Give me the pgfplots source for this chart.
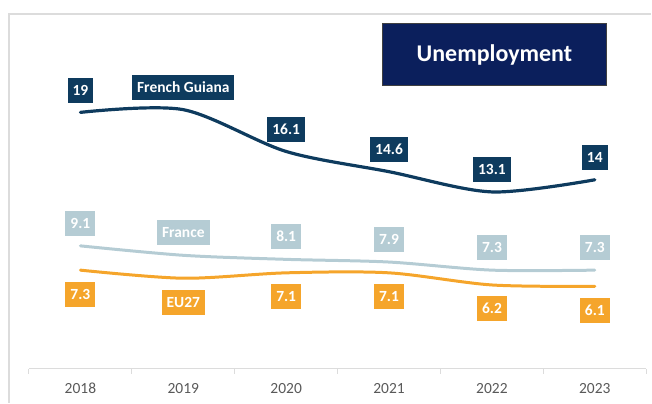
\documentclass[border=0pt]{standalone}
\usepackage{pgfplots}
\pgfplotsset{compat=1.18}
\usepackage{fontspec}
\setmainfont{Carlito}

\definecolor{guiana}{HTML}{0E3B5E}
\definecolor{france}{HTML}{B5CCD4}
\definecolor{eu}{HTML}{F5A52B}
\definecolor{titlebg}{HTML}{0B1F5C}
\definecolor{framegray}{HTML}{DCDCDC}
\definecolor{ticktext}{HTML}{595959}

\tikzset{
    lbl/.style={font=\bfseries\fontsize{15.5}{18}\selectfont, text=white,
        minimum height=25pt, inner xsep=5pt, inner ysep=0pt,
        text height=10pt, text depth=0pt, anchor=center},
}

\begin{document}
\begin{tikzpicture}
\begin{axis}[
    scale only axis,
    width=618pt, height=351pt,
    xmin=-0.5, xmax=5.5,
    ymin=0, ymax=26,
    axis y line=none,
    axis x line*=bottom,
    axis line style={draw=framegray, line width=1.2pt},
    xtick={0,1,2,3,4,5},
    xticklabels={2018,2019,2020,2021,2022,2023},
    major tick length=0pt,
    xticklabel style={font=\fontsize{15.5}{18}\selectfont, text=ticktext, yshift=-11pt},
    extra x ticks={-0.5,0.5,1.5,2.5,3.5,4.5,5.5},
    extra x tick labels={},
    extra x tick style={major tick length=5pt, tick align=outside,
        tick style={draw=framegray, line width=1pt}},
    clip=false,
    point meta=explicit symbolic,
    nodes near coords={\pgfplotspointmeta},
]
\addplot[guiana, line width=3.2pt, smooth, line cap=round,
    every node near coord/.style={lbl, fill=guiana, yshift=22pt}]
    coordinates {
    (0,19.0) [19]
    (1,19.2) [French Guiana]
    (2,16.1) [16.1]
    (3,14.6) [14.6]
    (4,13.1) [13.1]
    (5,14.0) [14]
};
\addplot[france, line width=3pt, smooth, line cap=round,
    every node near coord/.style={lbl, fill=france, yshift=22.5pt}]
    coordinates {
    (0,9.1) [9.1]
    (1,8.4) [France]
    (2,8.1) [8.1]
    (3,7.9) [7.9]
    (4,7.3) [7.3]
    (5,7.3) [7.3]
};
\addplot[eu, line width=3pt, smooth, line cap=round,
    every node near coord/.style={lbl, fill=eu, yshift=-24pt}]
    coordinates {
    (0,7.3) [7.3]
    (1,6.7) [EU27]
    (2,7.1) [7.1]
    (3,7.1) [7.1]
    (4,6.2) [6.2]
    (5,6.1) [6.1]
};
\node[fill=titlebg, draw=black!75, line width=0.8pt, text=white,
    minimum width=224pt, minimum height=62pt, inner sep=0pt,
    font=\bfseries\fontsize{24}{28}\selectfont]
    at (rel axis cs:0.754,0.895) {Unemployment};
\end{axis}
\draw[framegray, line width=1.5pt]
    ([xshift=-20pt,yshift=-34pt]current axis.south west)
    -- ([xshift=-20pt,yshift=4pt]current axis.north west)
    -- ([xshift=5pt,yshift=4pt]current axis.north east);
\path[use as bounding box]
    ([xshift=-29pt,yshift=-34pt]current axis.south west)
    rectangle ([xshift=5pt,yshift=18pt]current axis.north east);
\end{tikzpicture}
\end{document}
